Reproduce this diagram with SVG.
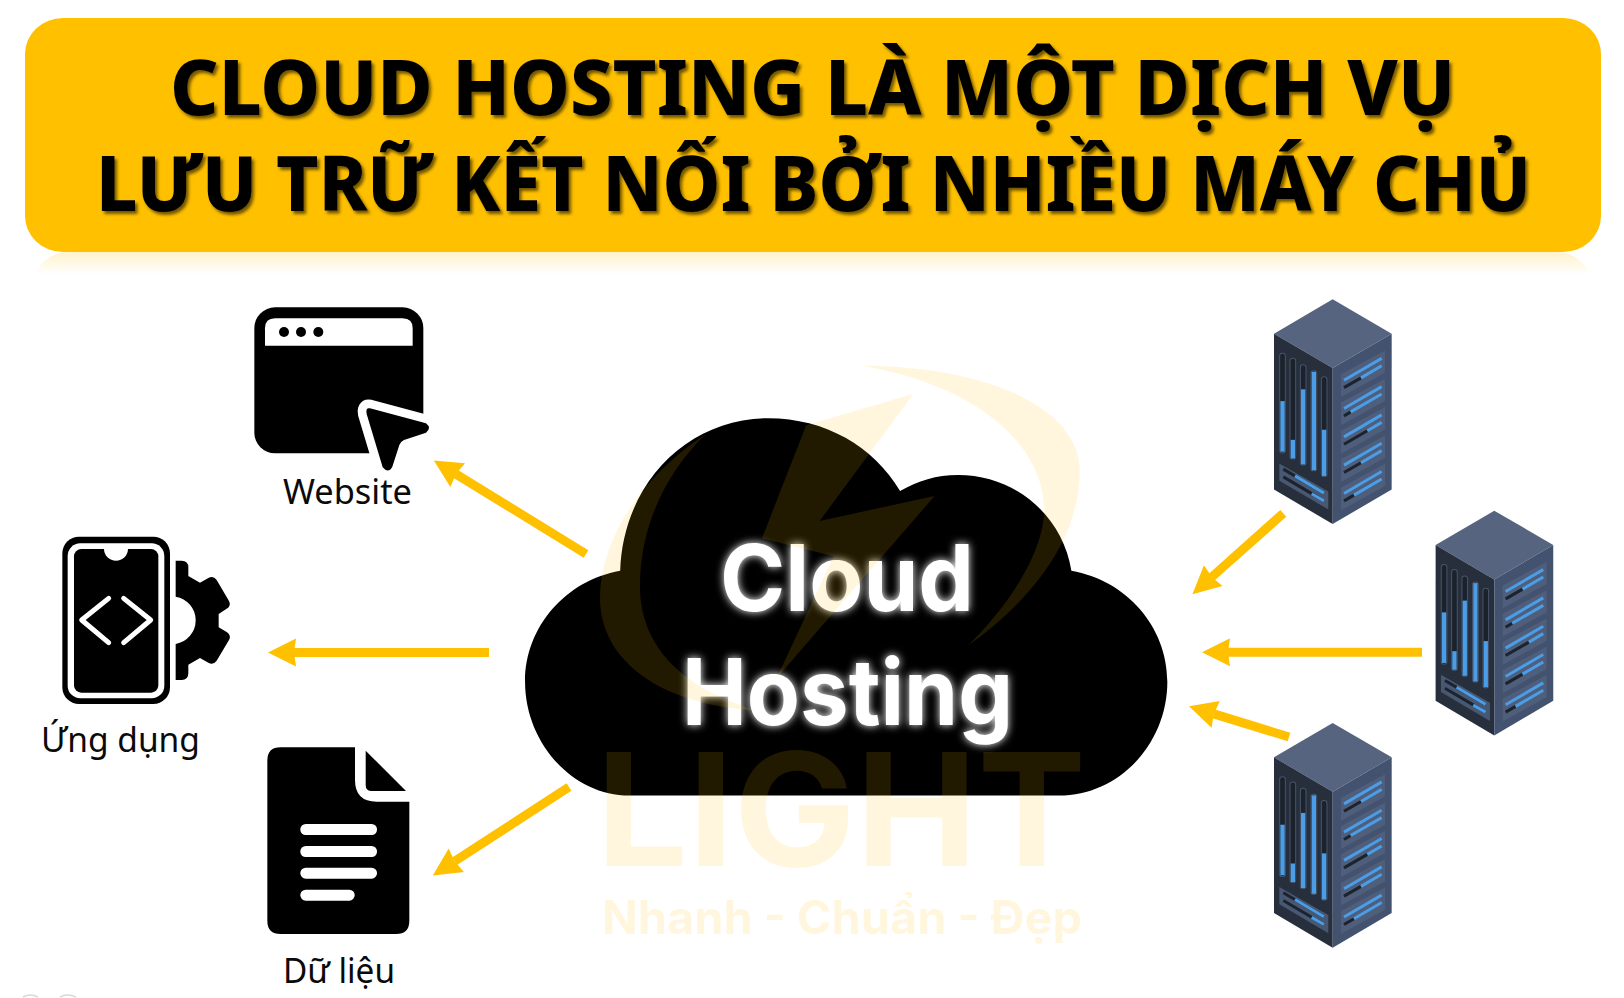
<svg xmlns="http://www.w3.org/2000/svg" xmlns:xlink="http://www.w3.org/1999/xlink" width="1624" height="998" viewBox="0 0 1624 998">
<style>
.title{font-family:"Noto Sans","Liberation Sans",sans-serif;font-weight:800;font-size:77px;fill:#000}
.label{font-family:"Noto Sans","Liberation Sans",sans-serif;font-size:34px;fill:#0a0a0a}
.cloudtxt{font-family:"Inter","Liberation Sans",sans-serif;font-weight:700;font-size:92px;fill:#fff}
.wm{font-family:"Inter","Liberation Sans",sans-serif;font-weight:700;fill:#FFC000}
.arrow{stroke:#FFC000;stroke-width:9;fill:none;marker-end:url(#head)}
.k{fill:#000}.w{fill:#fff}
.slot{fill:#1b222c;stroke:#46546b;stroke-width:3}
.blue{stroke:#4a9de6;stroke-width:9;fill:none}
.dark{stroke:#1c232d;stroke-width:9;fill:none}
.panel{fill:#4e5e7b}
</style>
<defs>
<marker id="head" markerUnits="userSpaceOnUse" markerWidth="30" markerHeight="30" viewBox="0 0 30 30" refX="2" refY="15" orient="auto">
<path d="M0 1 L28 15 L0 29 L2 15Z" fill="#FFC000"/>
</marker>
<linearGradient id="refl" x1="0" y1="0" x2="0" y2="1">
<stop offset="0" stop-color="#FFC000" stop-opacity=".2"/>
<stop offset="1" stop-color="#FFC000" stop-opacity="0"/>
</linearGradient>
<filter id="shadow" x="-5%" y="-20%" width="110%" height="140%">
<feDropShadow dx="2.5" dy="3" stdDeviation="1.6" flood-color="#000" flood-opacity=".55"/>
</filter>
<filter id="glow" x="-20%" y="-30%" width="140%" height="160%">
<feGaussianBlur in="SourceGraphic" stdDeviation="4.5" result="b"/>
<feMerge><feMergeNode in="b"/><feMergeNode in="SourceGraphic"/></feMerge>
</filter>
<path id="cursor" d="M450 355 L618 400 Q636 414 618 428 L552 450 Q542 454 538 465 L517 530 Q505 552 488 532 L440 372 Q436 352 450 355Z"/>
<g id="server">
<polygon points="218,28 395,130 218,232 42,130" fill="#56647f"/>
<polygon points="42,130 218,232 218,695 42,592" fill="#262f3b"/>
<polygon points="218,232 395,130 395,592 218,695" fill="#43526e"/>
<rect class="slot" x="59" y="188" width="17" height="296" rx="8"/>
<rect class="slot" x="90" y="203" width="17" height="299" rx="8"/>
<rect class="slot" x="121" y="222" width="17" height="298" rx="8"/>
<rect class="slot" x="153" y="240" width="17" height="297" rx="8"/>
<rect class="slot" x="184" y="258" width="17" height="296" rx="8"/>
<g fill="#4a9de6">
<rect x="61" y="330" width="13" height="150"/>
<rect x="92" y="445" width="13" height="55"/>
<rect x="123" y="295" width="13" height="223"/>
<rect x="155" y="243" width="13" height="292"/>
<rect x="186" y="415" width="13" height="137"/>
</g>
<polygon points="58,515 205,598 205,652 58,566" fill="#485872"/>
<path class="dark" d="M70 532 L192 603M70 555 L192 626"/>
<path class="blue" d="M105 552 L192 603M155 605 L192 626"/>
<g>
<polygon class="panel" points="243,250 375,180 375,246 243,318"/>
<polygon class="panel" points="243,334 375,264 375,330 243,402"/>
<polygon class="panel" points="243,418 375,348 375,414 243,486"/>
<polygon class="panel" points="243,502 375,432 375,498 243,570"/>
<polygon class="panel" points="243,586 375,516 375,582 243,654"/>
</g>
<path class="blue" d="M252 268 L365 203M252 352 L365 287M252 436 L365 371M252 520 L365 455M252 604 L365 539"/>
<path class="dark" d="M252 290 L303 261M252 374 L272 362M252 458 L322 418M252 542 L303 513M252 626 L282 609"/>
<path class="blue" d="M303 261 L365 225M272 362 L365 309M322 418 L365 393M303 513 L365 477M282 609 L365 561"/>
</g>
</defs>
<rect width="1624" height="998" fill="#fff"/>
<g id="title-bar">
<path d="M35 275 Q45 252 70 252 H1556 Q1580 252 1590 275Z" fill="url(#refl)"/>
<rect x="25" y="18" width="1576" height="234" rx="38" ry="36" fill="#FFC000"/>
<g filter="url(#shadow)">
<text class="title" x="170" y="115" textLength="1285" lengthAdjust="spacingAndGlyphs">CLOUD HOSTING LÀ MỘT DỊCH VỤ</text>
<text class="title" x="96" y="211" textLength="1435" lengthAdjust="spacingAndGlyphs">LƯU TRỮ KẾT NỐI BỞI NHIỀU MÁY CHỦ</text>
</g>
</g>
<g id="connectors">
<line class="arrow" x1="586" y1="554" x2="456" y2="474.1"/>
<line class="arrow" x1="489" y1="652.5" x2="294" y2="652.5"/>
<line class="arrow" x1="569" y1="787" x2="454.6" y2="861.3"/>
<line class="arrow" x1="1283.3" y1="513.3" x2="1211.8" y2="577"/>
<line class="arrow" x1="1422" y1="652.3" x2="1228" y2="652.3"/>
<line class="arrow" x1="1289" y1="737" x2="1213.8" y2="713.9"/>
</g>
<g id="node-website">
<g transform="translate(220,290) scale(.33333)">
<rect class="k" x="103" y="52" width="507" height="438" rx="62"/>
<path class="w" d="M135 167 H578 V115 Q578 85 548 85 H165 Q135 85 135 115Z"/>
<circle class="k" cx="192" cy="126" r="15"/><circle class="k" cx="243" cy="126" r="15"/><circle class="k" cx="295" cy="126" r="15"/>
<polygon class="w" points="450,355 625,385 625,505 450,505"/>
<use href="#cursor" fill="#fff" stroke="#fff" stroke-width="52" stroke-linejoin="round"/>
<use href="#cursor" fill="#000"/>
</g>
<text class="label" x="283" y="504" textLength="129" lengthAdjust="spacingAndGlyphs">Website</text>
</g>
<g id="node-app">
<g transform="translate(30,520) scale(.33333)">
<rect class="k" x="97" y="50" width="323" height="502" rx="50"/>
<rect class="w" x="113" y="70" width="290" height="465" rx="38"/>
<rect class="k" x="132" y="87" width="253" height="431" rx="22"/>
<path class="w" d="M222 87 a36 35 0 0 0 72 0z"/>
<path d="M236 235 L155 300 L236 368M281 235 L362 300 L281 368" fill="none" stroke="#fff" stroke-width="15" stroke-linecap="round" stroke-linejoin="round"/>
<path class="k" d="M437 122 H455 Q475 122 475 142 V168 L510 188 L535 174 Q550 166 560 180 L597 243 Q605 258 590 266 L566 282 V322 L590 336 Q605 346 597 360 L560 422 Q550 436 535 428 L510 414 L475 434 V460 Q475 480 455 480 H437 V372 A72 72 0 0 0 437 230Z"/>
</g>
<text class="label" x="41" y="752" textLength="159" lengthAdjust="spacingAndGlyphs">Ứng dụng</text>
</g>
<g id="node-data">
<g transform="translate(240,730) scale(.33333)">
<path class="k" d="M122 52 H345 V150 Q345 215 410 215 H508 V572 Q508 612 468 612 H122 Q82 612 82 572 V92 Q82 52 122 52Z"/>
<path class="k" d="M377 62 L498 183 H395 Q377 183 377 165Z"/>
<rect class="w" x="181" y="282" width="230" height="33" rx="16"/>
<rect class="w" x="181" y="348" width="230" height="33" rx="16"/>
<rect class="w" x="181" y="413" width="230" height="33" rx="16"/>
<rect class="w" x="181" y="479" width="163" height="33" rx="16"/>
</g>
<text class="label" x="283" y="983" textLength="112" lengthAdjust="spacingAndGlyphs">Dữ liệu</text>
</g>
<g id="node-server-1"><use href="#server" transform="translate(1260,289.9) scale(.33333,.337)"/></g>
<g id="node-server-2"><use href="#server" transform="translate(1421.6,501.2) scale(.33333,.337)"/></g>
<g id="node-server-3"><use href="#server" transform="translate(1260,713.5) scale(.33333,.337)"/></g>
<g id="node-cloud">
<g transform="translate(520,360) scale(.4209,.3831)">
<path class="k" d="M260 1137 H1280 C1425 1137 1538 1000 1538 840 C1538 695 1440 575 1310 550 C1290 410 1180 300 1040 300 C990 300 945 315 903 342 C840 225 725 152 590 152 C400 152 245 320 238 550 C110 575 12 695 12 840 C12 1000 125 1137 260 1137Z"/>
</g>
<g filter="url(#glow)">
<text class="cloudtxt" x="720" y="611" textLength="254" lengthAdjust="spacingAndGlyphs">Cloud</text>
<text class="cloudtxt" x="682" y="725" textLength="331" lengthAdjust="spacingAndGlyphs">Hosting</text>
</g>
</g>
<g id="watermark" opacity=".13">
<g transform="translate(520,360) scale(.4209,.3831)" fill="#FFC000">
<path d="M810 15 C1100 15 1330 120 1330 290 C1330 480 1200 640 1065 745 C1180 620 1250 480 1245 380 C1235 200 1060 60 810 15Z"/>
<path d="M440 195 C290 300 190 470 190 620 C190 790 340 900 560 915 C400 860 285 760 285 590 C285 430 350 290 440 195Z"/>
<polygon points="935,88 680,170 575,465 745,512 610,830 985,355 712,420"/>
</g>
<text class="wm" x="596" y="866" font-size="157" textLength="490" lengthAdjust="spacingAndGlyphs">LIGHT</text>
<text class="wm" x="602" y="934" font-size="46" textLength="480" lengthAdjust="spacingAndGlyphs">Nhanh - Chuẩn - Đẹp</text>
</g>
<path d="M23 997 Q30 993 38 997M60 997 Q67 993 76 997" fill="none" stroke="#d8d8d8" stroke-width="1.5"/>
</svg>
